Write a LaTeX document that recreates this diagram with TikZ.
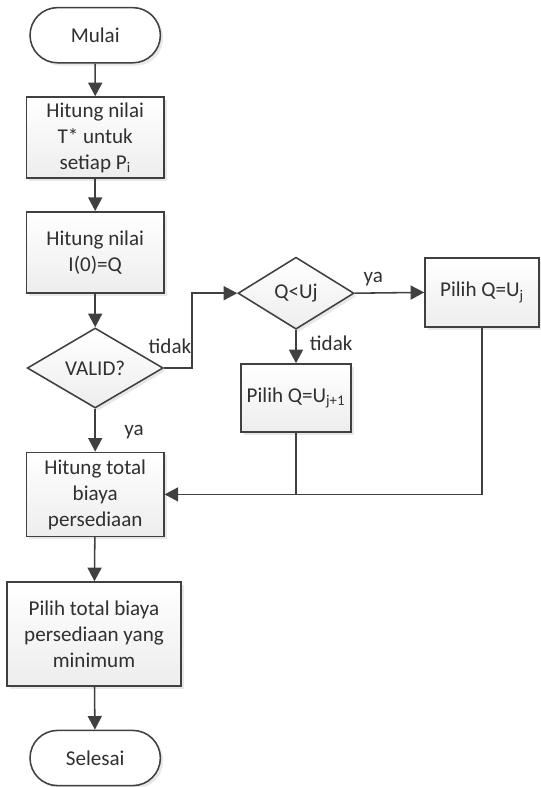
\documentclass[tikz,border=0pt]{standalone}
\usepackage{fontspec}
\setmainfont{Carlito}
\usetikzlibrary{arrows.meta,shapes.geometric,shapes.misc,shadows}
\definecolor{lineclr}{HTML}{404040}
\definecolor{txtclr}{HTML}{303030}
\tikzset{
  base/.style={draw=lineclr, line width=1.1pt, align=center, inner sep=2pt, text=txtclr,
    font=\fontsize{15}{18.5}\selectfont,
    drop shadow={opacity=0.18, shadow xshift=0.7mm, shadow yshift=-0.7mm}},
  kbox/.style={base, rectangle, top color=white, bottom color=gray!14},
  kterm/.style={base, rounded rectangle, fill=white, minimum width=3.4cm, minimum height=1.38cm},
  kdecision/.style={base, diamond, inner sep=0pt, top color=white, bottom color=gray!14},
  klabel/.style={font=\fontsize{15}{18}\selectfont, text=txtclr, inner sep=1pt},
  flow/.style={-{Triangle[length=3.4mm, width=3.5mm]}, draw=lineclr, line width=1.1pt},
  link/.style={draw=lineclr, line width=1.1pt},
}

\begin{document}
\begin{tikzpicture}
    \useasboundingbox (0,0) rectangle (13.5,-19.675);
    \node[kterm] (mulai) at (2.38,-0.88) {Mulai};
    \node[kbox, minimum width=3.43cm, minimum height=2.03cm] (hitungT) at (2.38,-3.44) {Hitung nilai\\T* untuk\\setiap P\textsubscript{i}};
    \node[kbox, minimum width=3.43cm, minimum height=2.03cm] (hitungQ) at (2.38,-6.31) {Hitung nilai\\I(0)=Q};
    \node[kdecision, minimum width=3.4cm, minimum height=2.0cm] (valid) at (2.38,-9.20) {VALID?};
    \node[kdecision, minimum width=2.9cm, minimum height=1.8cm] (qu) at (7.40,-7.33) {Q<Uj};
    \node[kbox, minimum width=2.85cm, minimum height=1.73cm] (pilihUj) at (12.05,-7.31) {Pilih Q=U\textsubscript{j}};
    \node[kbox, minimum width=2.75cm, minimum height=1.7cm] (pilihUjb) at (7.40,-9.95) {Pilih Q=U\textsubscript{j+1}};
    \node[kbox, minimum width=3.43cm, minimum height=2.1cm] (total) at (2.38,-12.36) {Hitung total\\biaya\\persediaan};
    \node[kbox, minimum width=4.35cm, minimum height=2.6cm] (minimum) at (2.35,-15.85) {Pilih total biaya\\persediaan yang\\minimum};
    \node[kterm] (selesai) at (2.38,-18.95) {Selesai};
    \coordinate (elbow) at (4.8,-9.20);
    \draw[flow] (mulai) -- (hitungT);
    \draw[flow] (hitungT) -- (hitungQ);
    \draw[flow] (hitungQ) -- (valid);
    \draw[flow] (valid.east) -- (elbow) |- (qu.west);
    \node[klabel] (tidakA) at (4.25,-8.65) {tidak};
    \draw[flow] (valid) -- (total);
    \node[klabel] (yaA) at (3.35,-10.8) {ya};
    \draw[flow] (qu.east) -- (pilihUj.west);
    \node[klabel] (yaB) at (9.33,-6.98) {ya};
    \draw[flow] (qu.south) -- (pilihUjb.north);
    \node[klabel] (tidakB) at (8.28,-8.58) {tidak};
    \draw[link] (pilihUjb.south) -- (pilihUjb.south |- total.east);
    \draw[flow] (pilihUj.south) |- (total.east);
    \draw[flow] (total) -- (minimum);
    \draw[flow] (minimum) -- (selesai);
  \end{tikzpicture}
\end{document}
